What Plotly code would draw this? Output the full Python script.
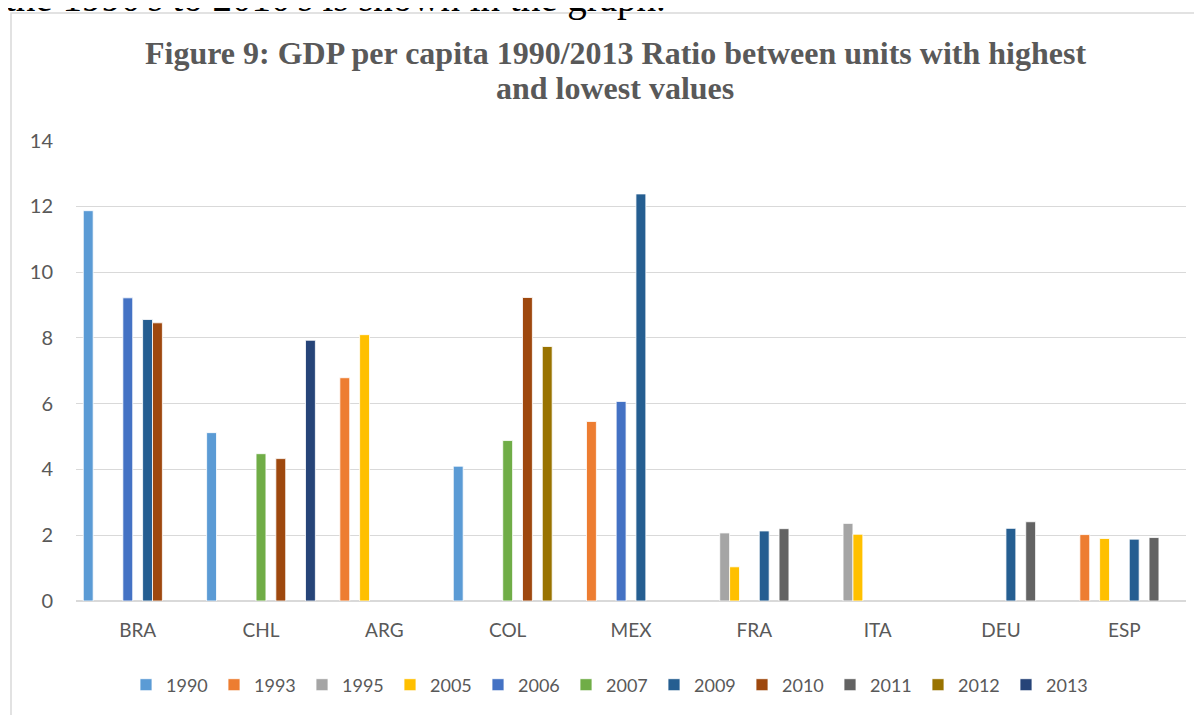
import plotly.graph_objects as go

categories = ["BRA", "CHL", "ARG", "COL", "MEX", "FRA", "ITA", "DEU", "ESP"]
years = ["1990", "1993", "1995", "2005", "2006", "2007", "2009", "2010", "2011", "2012", "2013"]

v1990 = [11.87, 5.12, None, 4.10, None, None, None, None, None]
v1993 = [None, None, 6.79, None, 5.46, None, None, None, 2.02]
v1995 = [None, None, None, None, None, 2.07, 2.36, None, None]
v2005 = [None, None, 8.10, None, None, 1.04, 2.03, None, 1.90]
v2006 = [9.22, None, None, None, 6.07, None, None, None, None]
v2007 = [None, 4.48, None, 4.88, None, None, None, None, None]
v2009 = [8.56, None, None, None, 12.38, 2.13, None, 2.21, 1.88]
v2010 = [8.46, 4.33, None, 9.23, None, None, None, None, None]
v2011 = [None, None, None, None, None, 2.20, None, 2.41, 1.93]
v2012 = [None, None, None, 7.74, None, None, None, None, None]
v2013 = [None, 7.93, None, None, None, None, None, None, None]

series = [v1990, v1993, v1995, v2005, v2006, v2007, v2009, v2010, v2011, v2012, v2013]
colors = ["#5B9BD5", "#ED7D31", "#A5A5A5", "#FFC000", "#4472C4", "#70AD47",
          "#255E91", "#9E480E", "#636363", "#997300", "#264478"]

title_line1 = "Figure 9: GDP per capita 1990/2013 Ratio between units with highest"
title_line2 = "and lowest values"
top_text = "the 1990's to 2010's is shown in the graph."

# page has an 8px body margin; figure is placed at (8, 8)
OFF = 8
W, H = 1202 - OFF, 715 - OFF
# plot area in page pixels
PL, PR, PT, PB = 76, 1186, 140, 601
L, R, T, B = PL - OFF, W - (PR - OFF), PT - OFF, H - (PB - OFF)
pw, ph = PR - PL, PB - PT

def px_x(x):
    return (x - PL) / pw

def px_y(y):
    return (PB - y) / ph

fig = go.Figure()
for name, vals, col in zip(years, series, colors):
    fig.add_trace(go.Bar(
        name=name, x=categories, y=vals,
        marker=dict(color=col, line=dict(color="white", width=0.8)),
    ))

txt = "#595959"
title_font = dict(family="Liberation Serif", size=32, color=txt, weight="bold")
fig.update_layout(
    width=W, height=H,
    margin=dict(l=L, r=R, t=T, b=B, autoexpand=False),
    paper_bgcolor="white", plot_bgcolor="white",
    barmode="group", bargap=0.118, bargroupgap=0,
    font=dict(family="Lato", size=18, color=txt),
    xaxis=dict(
        showgrid=False, showline=False, zeroline=False, ticks="",
        ticklabelstandoff=16, tickfont=dict(family="Lato", size=19, color=txt),
    ),
    yaxis=dict(
        range=[0, 14.02], tickvals=[0, 2, 4, 6, 8, 10, 12, 14],
        showgrid=True, gridcolor="#D9D9D9", gridwidth=1.3,
        zeroline=True, zerolinecolor="#D9D9D9", zerolinewidth=1.5,
        showline=False, ticks="", ticklabelstandoff=22,
        tickfont=dict(family="Lato", size=20, color=txt),
    ),
    legend=dict(
        orientation="h", x=px_x(610), xanchor="center", y=px_y(685), yanchor="middle",
        entrywidth=43, entrywidthmode="pixels", itemwidth=30,
        font=dict(family="Lato", size=18, color=txt), bgcolor="rgba(0,0,0,0)",
        traceorder="normal",
    ),
    shapes=[dict(
        type="rect", xref="paper", yref="paper",
        x0=px_x(11), x1=px_x(1260), y0=px_y(760), y1=px_y(13),
        line=dict(color="#D9D9D9", width=1.5), fillcolor="rgba(0,0,0,0)", layer="below",
    )],
    annotations=[
        dict(
            text=top_text, xref="paper", yref="paper", x=px_x(3), xanchor="left",
            y=px_y(22), yanchor="bottom", showarrow=False,
            font=dict(family="Liberation Serif", size=39, color="black"),
        ),
        dict(
            text=title_line1, xref="paper", yref="paper", x=px_x(615), xanchor="center",
            y=px_y(53), yanchor="middle", showarrow=False, font=title_font,
        ),
        dict(
            text=title_line2, xref="paper", yref="paper", x=px_x(615), xanchor="center",
            y=px_y(88), yanchor="middle", showarrow=False, font=title_font,
        ),
    ],
)

fig.write_html("out.html")
